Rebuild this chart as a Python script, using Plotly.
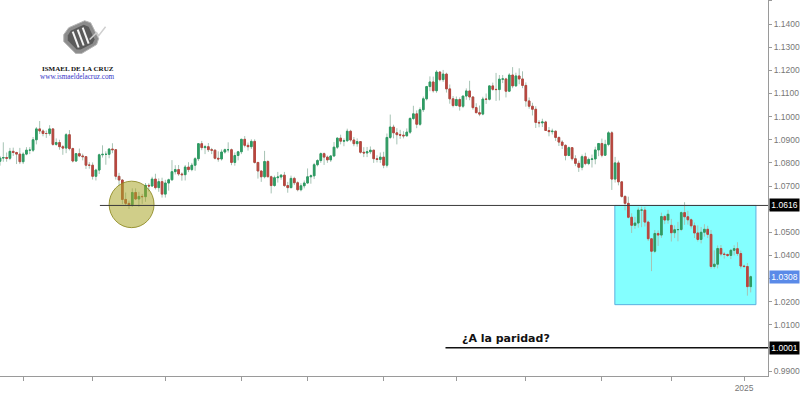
import pandas as pd
import plotly.graph_objects as go

# ---------------- DATA (EUR/USD daily) ----------------
dates = pd.bdate_range("2024-02-20", "2025-01-03")

open_ = [
    1.0776,1.0807,1.0821,1.0823,1.0820,1.0850,1.0845,1.0838,
    1.0805,1.0838,1.0855,1.0855,1.0900,1.0947,1.0938,1.0927,1.0927,1.0947,1.0880,1.0888,1.0870,1.0864,1.0922,1.0862,1.0808,1.0840,1.0830,1.0827,1.0790,
    1.0790,1.0742,1.0769,1.0835,1.0837,1.0837,1.0860,1.0857,1.0742,1.0726,1.0642,1.0625,1.0619,1.0672,1.0644,1.0655,1.0654,1.0703,1.0700,1.0730,1.0693,1.0719,
    1.0665,1.0713,1.0727,1.0762,1.0771,1.0752,1.0749,1.0782,1.0771,1.0790,1.0818,1.0883,1.0866,1.0870,1.0857,1.0855,1.0820,1.0817,1.0847,1.0857,1.0857,1.0802,1.0832,
    1.0848,1.0902,1.0876,1.0870,1.0893,1.0802,1.0765,1.0740,1.0806,1.0740,1.0702,1.0736,1.0739,1.0747,1.0702,1.0693,1.0733,1.0714,1.0684,1.0701,
    1.0713,1.0740,1.0744,1.0792,1.0810,1.0840,1.0825,1.0813,1.0830,1.0868,1.0907,1.0894,1.0896,1.0937,1.0899,1.0883,1.0892,1.0846,1.0843,1.0848,1.0855,1.0818,1.0815,
    1.0825,1.0790,1.0910,1.0955,1.0930,1.0922,1.0920,1.0917,1.0933,1.0992,1.1012,1.0967,1.1030,1.1077,1.1130,1.1150,1.1112,1.1193,1.1160,1.1184,1.1120,1.1077,
    1.1048,1.1074,1.1045,1.1089,1.1111,1.1085,1.1039,1.1017,1.1011,1.1076,1.1075,1.1133,1.1118,1.1117,1.1162,1.1163,1.1110,1.1180,1.1133,1.1176,1.1163,
    1.1135,1.1068,1.1045,1.1032,1.0975,1.0973,1.0977,1.0940,1.0935,1.0937,1.0910,1.0890,1.0876,1.0832,1.0866,1.0818,1.0798,1.0781,1.0827,1.0797,1.0815,1.0817,1.0856,
    1.0884,1.0833,1.0880,1.0930,1.0730,1.0800,1.0718,1.0655,1.0625,1.0565,1.0530,1.0540,1.0596,1.0596,1.0544,1.0472,1.0418,1.0495,1.0488,1.0568,1.0553,
    1.0530,1.0498,1.0511,1.0512,1.0585,1.0567,1.0554,1.0528,1.0497,1.0469,1.0500,1.0513,1.0491,1.0352,1.0362,1.0430,1.0406,1.0404,1.0400,1.0422,1.0429,1.0408,
    1.0354,1.0352,1.0265,
]
high = [
    1.0839,1.0830,1.0889,1.0845,1.0865,1.0866,1.0848,1.0865,
    1.0846,1.0868,1.0868,1.0912,1.0955,1.0981,1.0945,1.0940,1.0963,1.0950,1.0906,1.0900,1.0877,1.0929,1.0942,1.0866,1.0843,1.0862,1.0840,1.0828,1.0803,
    1.0802,1.0775,1.0840,1.0876,1.0850,1.0863,1.0885,1.0860,1.0757,1.0730,1.0672,1.0637,1.0690,1.0690,1.0675,1.0666,1.0713,1.0712,1.0740,1.0753,1.0733,1.0736,
    1.0727,1.0732,1.0812,1.0790,1.0791,1.0759,1.0791,1.0803,1.0800,1.0825,1.0886,1.0895,1.0878,1.0886,1.0865,1.0858,1.0850,1.0858,1.0862,1.0889,1.0862,1.0845,1.0852,
    1.0904,1.0916,1.0888,1.0902,1.0902,1.0802,1.0765,1.0852,1.0812,1.0745,1.0745,1.0761,1.0752,1.0761,1.0718,1.0745,1.0740,1.0720,1.0712,1.0724,
    1.0776,1.0750,1.0800,1.0816,1.0845,1.0845,1.0832,1.0833,1.0890,1.0910,1.0922,1.0906,1.0948,1.0943,1.0912,1.0906,1.0894,1.0868,1.0869,1.0871,1.0856,1.0833,1.0845,
    1.0848,1.0927,1.1009,1.0965,1.0950,1.0943,1.0937,1.0949,1.0998,1.1047,1.1027,1.1040,1.1087,1.1133,1.1174,1.1173,1.1201,1.1195,1.1202,1.1190,1.1139,1.1089,
    1.1087,1.1083,1.1090,1.1122,1.1155,1.1087,1.1058,1.1048,1.1086,1.1100,1.1135,1.1147,1.1189,1.1180,1.1180,1.1168,1.1188,1.1214,1.1190,1.1209,1.1196,
    1.1148,1.1083,1.1060,1.1045,1.0985,1.0991,1.0982,1.0955,1.0948,1.0940,1.0914,1.0898,1.0880,1.0871,1.0866,1.0833,1.0810,1.0836,1.0844,1.0823,1.0836,1.0870,1.0885,
    1.0905,1.0900,1.0937,1.0937,1.0826,1.0810,1.0720,1.0660,1.0654,1.0582,1.0567,1.0608,1.0611,1.0610,1.0550,1.0475,1.0510,1.0508,1.0585,1.0575,1.0597,
    1.0558,1.0530,1.0545,1.0590,1.0630,1.0593,1.0560,1.0542,1.0530,1.0523,1.0535,1.0528,1.0510,1.0422,1.0443,1.0445,1.0415,1.0408,1.0428,1.0444,1.0457,1.0421,
    1.0360,1.0367,1.0313,
]
low = [
    1.0762,1.0788,1.0805,1.0805,1.0812,1.0830,1.0795,1.0795,
    1.0795,1.0833,1.0838,1.0847,1.0880,1.0925,1.0915,1.0908,1.0918,1.0874,1.0874,1.0857,1.0835,1.0842,1.0854,1.0802,1.0805,1.0825,1.0811,1.0774,1.0775,
    1.0728,1.0724,1.0752,1.0823,1.0792,1.0820,1.0842,1.0728,1.0700,1.0622,1.0618,1.0601,1.0610,1.0639,1.0610,1.0623,1.0632,1.0676,1.0697,1.0685,1.0675,1.0650,
    1.0650,1.0680,1.0722,1.0750,1.0744,1.0723,1.0724,1.0760,1.0764,1.0766,1.0808,1.0855,1.0838,1.0847,1.0838,1.0815,1.0805,1.0810,1.0840,1.0845,1.0790,1.0788,1.0811,
    1.0838,1.0867,1.0853,1.0860,1.0797,1.0732,1.0718,1.0733,1.0740,1.0668,1.0697,1.0715,1.0727,1.0696,1.0671,1.0690,1.0704,1.0677,1.0677,1.0690,
    1.0710,1.0710,1.0730,1.0785,1.0800,1.0791,1.0800,1.0804,1.0825,1.0860,1.0880,1.0872,1.0890,1.0892,1.0872,1.0870,1.0840,1.0825,1.0825,1.0838,1.0800,1.0802,1.0800,
    1.0777,1.0780,1.0903,1.0906,1.0880,1.0904,1.0906,1.0915,1.0925,1.0985,1.0950,1.0960,1.1020,1.1070,1.1110,1.1104,1.1103,1.1153,1.1150,1.1104,1.1056,1.1040,
    1.1045,1.1026,1.1037,1.1073,1.1071,1.1030,1.1017,1.1002,1.1006,1.1055,1.1070,1.1112,1.1068,1.1070,1.1145,1.1083,1.1106,1.1123,1.1130,1.1140,1.1123,
    1.1043,1.1034,1.1005,1.0951,1.0954,1.0955,1.0938,1.0915,1.0923,1.0895,1.0873,1.0860,1.0811,1.0829,1.0810,1.0786,1.0761,1.0768,1.0790,1.0790,1.0780,1.0794,1.0829,
    1.0824,1.0830,1.0872,1.0683,1.0715,1.0703,1.0650,1.0595,1.0560,1.0497,1.0515,1.0520,1.0522,1.0525,1.0462,1.0332,1.0410,1.0441,1.0476,1.0535,1.0537,
    1.0460,1.0475,1.0461,1.0505,1.0532,1.0533,1.0516,1.0475,1.0460,1.0452,1.0481,1.0475,1.0343,1.0343,1.0344,1.0396,1.0386,1.0393,1.0384,1.0400,1.0398,1.0343,
    1.0345,1.0226,1.0240,
]
close = [
    1.0807,1.0821,1.0823,1.0820,1.0850,1.0845,1.0838,1.0805,
    1.0838,1.0855,1.0855,1.0900,1.0947,1.0938,1.0927,1.0927,1.0947,1.0880,1.0888,1.0870,1.0864,1.0922,1.0862,1.0808,1.0840,1.0830,1.0827,1.0790,1.0790,
    1.0742,1.0769,1.0835,1.0837,1.0837,1.0860,1.0857,1.0742,1.0726,1.0642,1.0625,1.0619,1.0672,1.0644,1.0655,1.0654,1.0703,1.0700,1.0730,1.0693,1.0719,1.0665,
    1.0713,1.0727,1.0762,1.0771,1.0752,1.0749,1.0782,1.0771,1.0790,1.0818,1.0883,1.0866,1.0870,1.0857,1.0855,1.0820,1.0817,1.0847,1.0857,1.0857,1.0802,1.0832,1.0848,
    1.0902,1.0876,1.0870,1.0893,1.0802,1.0765,1.0740,1.0806,1.0740,1.0702,1.0736,1.0739,1.0747,1.0702,1.0693,1.0733,1.0714,1.0684,1.0701,1.0713,
    1.0740,1.0744,1.0792,1.0810,1.0840,1.0825,1.0813,1.0830,1.0868,1.0907,1.0894,1.0896,1.0937,1.0899,1.0883,1.0892,1.0846,1.0843,1.0848,1.0855,1.0818,1.0815,1.0825,
    1.0790,1.0910,1.0955,1.0930,1.0922,1.0920,1.0917,1.0933,1.0992,1.1012,1.0967,1.1030,1.1077,1.1130,1.1150,1.1112,1.1193,1.1160,1.1184,1.1120,1.1077,1.1048,
    1.1074,1.1045,1.1089,1.1111,1.1085,1.1039,1.1017,1.1011,1.1076,1.1075,1.1133,1.1118,1.1117,1.1162,1.1163,1.1110,1.1180,1.1133,1.1176,1.1163,1.1135,
    1.1068,1.1045,1.1032,1.0975,1.0973,1.0977,1.0940,1.0935,1.0937,1.0910,1.0890,1.0876,1.0832,1.0866,1.0818,1.0798,1.0781,1.0827,1.0797,1.0815,1.0817,1.0856,1.0884,
    1.0833,1.0880,1.0930,1.0730,1.0800,1.0718,1.0655,1.0625,1.0565,1.0530,1.0540,1.0596,1.0596,1.0544,1.0472,1.0418,1.0495,1.0488,1.0568,1.0553,1.0578,
    1.0498,1.0511,1.0512,1.0585,1.0567,1.0554,1.0528,1.0497,1.0469,1.0500,1.0513,1.0491,1.0352,1.0362,1.0430,1.0406,1.0404,1.0400,1.0422,1.0429,1.0408,1.0354,
    1.0352,1.0265,1.0308,
]

support_level = 1.0616
parity_level = 1.0001
last_price = 1.0308
month_ticks = ["2024-03-01", "2024-04-01", "2024-05-01", "2024-06-03", "2024-07-01",
               "2024-08-01", "2024-09-02", "2024-10-01", "2024-11-01", "2024-12-02",
               "2025-01-01"]
month_labels = ["", "", "", "", "", "", "", "", "", "", "2025"]
price_ticks = [0.99, 1.00, 1.01, 1.02, 1.03, 1.04, 1.05, 1.06, 1.07, 1.08, 1.09,
               1.10, 1.11, 1.12, 1.13, 1.14, 1.15]
# labels hidden behind the price tags in the reference
price_labels = ["0.9900", "", "1.0100", "1.0200", "", "1.0400", "1.0500", "", "1.0700",
                "1.0800", "1.0900", "1.1000", "1.1100", "1.1200", "1.1300", "1.1400", "1.1500"]

assert len(dates) == len(open_) == len(high) == len(low) == len(close)

# ---------------- STYLE ----------------
UP = "#2e9b63"
DOWN = "#b8463f"
WICK = "#a6c3b4"
GRID_TXT = "#777777"
AX = "#9a9a9a"
W_PLOT, H_PLOT = 771, 380

body_hi = [max(o, c) for o, c in zip(open_, close)]
body_lo = [min(o, c) for o, c in zip(open_, close)]

fig = go.Figure()
# wicks (full range)
fig.add_trace(go.Candlestick(
    x=dates, open=open_, high=high, low=low, close=close,
    increasing=dict(line=dict(color=WICK, width=1), fillcolor=WICK),
    decreasing=dict(line=dict(color=WICK, width=1), fillcolor=WICK),
    whiskerwidth=0, hoverinfo="skip", showlegend=False))
# bodies
fig.add_trace(go.Candlestick(
    x=dates, open=open_, high=body_hi, low=body_lo, close=close,
    increasing=dict(line=dict(color=UP, width=1), fillcolor=UP),
    decreasing=dict(line=dict(color=DOWN, width=1), fillcolor=DOWN),
    whiskerwidth=0, showlegend=False))

x_end = "2025-01-10 05:30"

shapes = [
    # cyan box
    dict(type="rect", xref="x", yref="y", x0="2024-11-06 22:00", x1="2025-01-06 14:00",
         y0=1.0187, y1=support_level, fillcolor="#84ffff", line=dict(color="#5ab0e0", width=1),
         layer="below"),
    # olive circle
    dict(type="circle", xref="x", yref="y", x0="2024-04-08 00:00", x1="2024-04-25 14:00",
         y0=1.0520, y1=1.0721, fillcolor="rgba(170,165,40,0.55)",
         line=dict(color="rgba(140,135,30,0.85)", width=1), layer="above"),
    # support line
    dict(type="line", xref="x", yref="y", x0="2024-04-03 05:00", x1=x_end,
         y0=support_level, y1=support_level, line=dict(color="#3a3a3a", width=1)),
    # parity line
    dict(type="line", xref="x", yref="y", x0="2024-08-27 17:00", x1=x_end,
         y0=parity_level, y1=parity_level, line=dict(color="#111111", width=1.6)),
]

# logo (paper coords from pixel positions)
def px(x, y):
    return x / W_PLOT, 1 - y / H_PLOT

def poly(points, closed=True):
    s = ""
    for i, (x, y) in enumerate(points):
        u, v = px(x, y)
        s += ("M" if i == 0 else "L") + f"{u:.5f},{v:.5f} "
    return s + ("Z" if closed else "")

# outer light frame and darker inner face of the logo
shapes.append(dict(type="path", xref="paper", yref="paper",
                   path=poly([(69, 28), (85, 21), (91, 23), (99, 39), (97, 45), (82, 54), (76, 54), (64, 42), (64, 35)]),
                   fillcolor="#8c8c8c", line=dict(color="#b5b5b5", width=1)))
shapes.append(dict(type="path", xref="paper", yref="paper",
                   path=poly([(71, 31), (84, 25), (89, 27), (95, 40), (93, 44), (81, 50), (77, 50), (68, 41), (68, 36)]),
                   fillcolor="#5a5a5a", line=dict(width=0)))
for (a, b) in [((73, 32), (79, 48)), ((78, 30), (84, 46)), ((83, 28), (89, 44))]:
    shapes.append(dict(type="path", xref="paper", yref="paper",
                       path=poly([a, b], closed=False), line=dict(color="#f4f4f4", width=2)))
shapes.append(dict(type="path", xref="paper", yref="paper",
                   path=poly([(90, 40), (97, 33), (99, 36), (106, 27)], closed=False),
                   line=dict(color="#cfcfcf", width=1.5)))

annotations = [
    dict(xref="paper", yref="paper", x=px(78, 0)[0], y=px(0, 69.5)[1], text="<b>ISMAEL DE LA CRUZ</b>",
         showarrow=False, font=dict(family="Liberation Serif", size=7, color="#111111"),
         xanchor="center", yanchor="middle"),
    dict(xref="paper", yref="paper", x=px(78, 0)[0], y=px(0, 78)[1], text="www.ismaeldelacruz.com",
         showarrow=False, font=dict(family="Liberation Serif", size=7.2, color="#3535c8"),
         xanchor="center", yanchor="middle"),
    dict(xref="x", yref="y", x="2024-09-03 03:00", y=parity_level, text="<b>¿A la paridad?</b>",
         showarrow=False, font=dict(family="DejaVu Sans", size=11, color="#111111"),
         xanchor="left", yanchor="bottom", yshift=1),
]
for val, bg in [(support_level, "#000000"), (last_price, "#5a8ae8"), (parity_level, "#000000")]:
    annotations.append(dict(xref="paper", yref="y", x=1, y=val, text=f"{val:.4f}",
                            showarrow=False, xanchor="left", yanchor="middle", xshift=1,
                            bgcolor=bg, borderpad=1, width=27,
                            font=dict(family="Liberation Sans", size=8.5, color="#ffffff")))

fig.update_layout(
    width=800, height=393,
    margin=dict(l=0, r=29, t=0, b=13),
    paper_bgcolor="white", plot_bgcolor="white",
    showlegend=False,
    shapes=shapes, annotations=annotations,
    xaxis=dict(type="date", range=["2024-02-21", x_end],
               rangebreaks=[dict(bounds=["sat", "mon"])],
               rangeslider=dict(visible=False),
               tickmode="array", tickvals=month_ticks, ticktext=month_labels,
               ticks="outside", ticklen=4, tickcolor=AX,
               showline=True, linecolor=AX, linewidth=1,
               showgrid=False, zeroline=False,
               tickfont=dict(family="Liberation Sans", size=8.5, color=GRID_TXT)),
    yaxis=dict(side="right", range=[0.98786, 1.15043],
               tickmode="array", tickvals=price_ticks, ticktext=price_labels,
               ticks="outside", ticklen=3, tickcolor=AX,
               showline=True, linecolor=AX, linewidth=1,
               showgrid=False, zeroline=False,
               tickfont=dict(family="Liberation Sans", size=8.5, color=GRID_TXT)),
)

fig.write_html("out.html")
